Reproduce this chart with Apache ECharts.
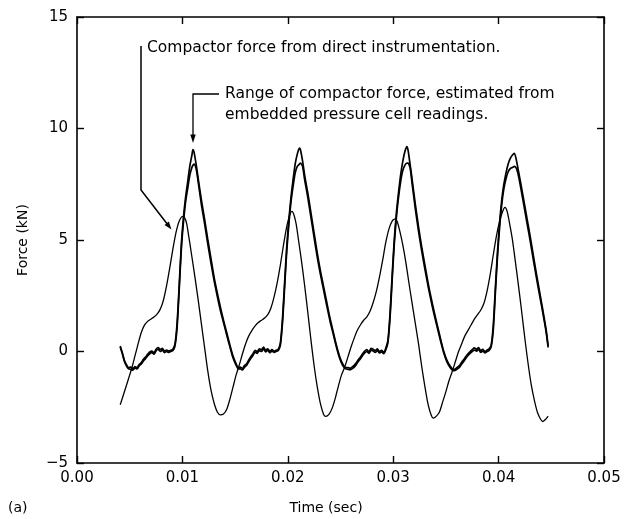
<!DOCTYPE html>
<html>
<head>
<meta charset="utf-8">
<title>Compactor force</title>
<script src="https://cdn.jsdelivr.net/npm/echarts@6/dist/echarts.min.js"></script>
<style>
  html, body { margin: 0; padding: 0; background: #fff; }
  #chart { width: 634px; height: 519px; }
</style>
</head>
<body>
<div id="chart"></div>
<script>
// compactor force from direct instrumentation (time in sec, force in kN)
var directT = [
  0.0041,0.0044,0.0047,0.0050,0.0052,0.0055,0.0058,0.0061,0.0064,0.0067,0.0070,0.0073,0.0076,0.0079,0.0082,0.0085,0.0088,0.0091,0.0094,0.0097,0.0100,0.0102,0.0104,0.0106,
  0.0109,0.0112,0.0115,0.0118,0.0121,0.0124,0.0127,0.0130,0.0133,0.0136,0.0139,0.0142,0.0145,0.0148,0.0151,0.0154,0.0157,0.0160,0.0163,0.0166,0.0169,0.0172,0.0175,0.0178,
  0.0181,0.0184,0.0187,0.0190,0.0193,0.0196,0.0199,0.0202,0.0204,0.0206,0.0208,
  0.0210,0.0213,0.0216,0.0219,0.0222,0.0225,0.0228,0.0231,0.0234,0.0236,0.0239,0.0242,0.0245,0.0248,0.0251,0.0254,0.0257,0.0260,0.0263,0.0266,0.0269,0.0272,0.0275,0.0278,
  0.0281,0.0284,0.0287,0.0290,0.0293,0.0296,0.0299,0.0302,0.0304,0.0306,0.0309,0.0312,0.0315,0.0318,0.0321,0.0324,0.0327,0.0330,0.0333,0.0336,0.0338,
  0.0341,0.0344,0.0347,0.0350,0.0353,0.0356,0.0359,0.0362,0.0365,0.0368,0.0371,0.0374,0.0377,0.0380,0.0383,0.0386,0.0389,0.0392,0.0395,0.0398,0.0401,0.0404,0.0406,0.0408,
  0.0410,0.0413,0.0416,0.0419,0.0422,0.0425,0.0428,0.0431,0.0434,0.0437,0.0440,0.0442,0.0445,0.0447
];
var directF = [
  -2.39,-1.95,-1.50,-1.05,-0.75,-0.20,0.35,0.85,1.18,1.35,1.45,1.55,1.68,1.90,2.30,2.95,3.75,4.60,5.35,5.85,6.05,6.00,5.75,5.17,
  4.25,3.30,2.30,1.25,0.20,-0.85,-1.70,-2.30,-2.70,-2.84,-2.80,-2.60,-2.15,-1.60,-1.05,-0.60,-0.10,0.35,0.70,0.95,1.15,1.30,1.40,1.50,
  1.65,1.95,2.45,3.10,3.90,4.80,5.60,6.15,6.28,6.10,5.70,
  5.05,4.05,2.95,1.75,0.50,-0.65,-1.60,-2.35,-2.82,-2.91,-2.82,-2.55,-2.10,-1.55,-1.05,-0.70,-0.25,0.20,0.60,0.95,1.20,1.40,1.55,1.80,
  2.20,2.70,3.35,4.10,4.90,5.50,5.85,5.95,5.80,5.45,4.80,4.00,3.05,2.15,1.25,0.35,-0.65,-1.55,-2.35,-2.85,-2.99,
  -2.90,-2.70,-2.25,-1.80,-1.30,-0.90,-0.45,0.00,0.35,0.70,0.95,1.20,1.45,1.65,1.85,2.15,2.70,3.45,4.35,5.20,5.85,6.30,6.46,6.30,
  5.85,5.05,4.00,2.90,1.75,0.55,-0.55,-1.50,-2.20,-2.75,-3.05,-3.14,-3.02,-2.90
];

// range estimated from embedded pressure cells: upper and lower bound
var rangeT = [
  0.0041,0.0043,0.0045,0.0047,0.0049,0.0051,0.0053,0.0055,0.0057,0.0059,0.0061,0.0063,0.0065,0.0067,0.0069,0.0071,0.0073,0.0075,0.0077,0.0079,0.0081,0.0083,0.0085,0.0087,
  0.0089,0.0091,0.0093,0.0095,0.0097,0.0099,0.0101,0.0103,0.0105,0.0107,0.0109,0.0110,0.0111,0.0113,0.0115,0.0118,0.0121,0.0124,0.0127,0.0130,0.0133,0.0136,0.0139,0.0142,
  0.0145,0.0148,0.0151,0.0153,
  0.0155,0.0157,0.0159,0.0161,0.0163,0.0165,0.0167,0.0169,0.0171,0.0173,0.0175,0.0177,0.0179,0.0181,0.0183,0.0185,0.0187,0.0189,0.0191,0.0193,0.0195,0.0197,0.0199,0.0201,
  0.0203,0.0205,0.0207,0.0209,0.0211,0.0212,0.0214,0.0216,0.0219,0.0222,0.0225,0.0228,0.0231,0.0234,0.0237,0.0240,0.0243,0.0246,0.0249,0.0252,0.0255,
  0.0257,0.0259,0.0261,0.0263,0.0265,0.0267,0.0269,0.0271,0.0273,0.0275,0.0277,0.0279,0.0281,0.0283,0.0285,0.0287,0.0289,0.0291,0.0293,0.0295,0.0297,0.0299,0.0301,0.0303,
  0.0305,0.0307,0.0309,0.0311,0.0313,0.0314,0.0316,0.0318,0.0321,0.0324,0.0327,0.0330,0.0333,0.0336,0.0339,0.0342,0.0345,0.0348,0.0351,0.0354,0.0357,
  0.0359,0.0361,0.0363,0.0365,0.0367,0.0369,0.0371,0.0373,0.0375,0.0377,0.0379,0.0381,0.0383,0.0385,0.0387,0.0389,0.0391,0.0393,0.0395,0.0397,0.0399,0.0401,0.0403,0.0405,
  0.0407,0.0409,0.0411,0.0413,0.0415,0.0417,0.0419,0.0421,0.0424,0.0427,0.0430,0.0433,0.0436,0.0439,0.0442,0.0445,0.0447
];
var rangeHigh = [
  0.25,-0.05,-0.40,-0.60,-0.72,-0.70,-0.78,-0.68,-0.72,-0.58,-0.50,-0.35,-0.25,-0.12,-0.02,0.02,-0.06,0.10,0.18,0.08,0.14,0.02,0.06,0.02,
  0.05,0.10,0.35,1.30,3.00,4.80,6.00,6.90,7.60,8.30,8.80,9.05,8.95,8.40,7.75,6.80,5.95,5.05,4.20,3.35,2.65,2.00,1.40,0.85,
  0.30,-0.20,-0.55,-0.72,
  -0.70,-0.76,-0.62,-0.55,-0.38,-0.22,-0.10,0.05,0.00,0.12,0.08,0.20,0.06,0.12,0.00,0.08,0.02,0.06,0.10,0.40,1.50,3.10,4.70,5.90,
  6.90,7.70,8.40,8.85,9.12,9.05,8.55,7.90,7.10,6.20,5.30,4.40,3.60,2.90,2.20,1.50,0.90,0.30,-0.20,-0.55,-0.72,
  -0.72,-0.75,-0.70,-0.62,-0.50,-0.36,-0.25,-0.10,0.02,0.08,-0.02,0.14,0.10,0.04,0.12,0.00,0.05,-0.04,0.15,0.50,1.70,3.40,5.00,6.20,
  7.10,7.90,8.50,8.95,9.19,9.05,8.40,7.70,6.60,5.60,4.70,3.90,3.10,2.40,1.75,1.15,0.55,0.00,-0.40,-0.65,-0.80,
  -0.78,-0.70,-0.62,-0.48,-0.36,-0.22,-0.10,0.00,0.08,0.16,0.10,0.18,0.04,0.10,0.00,0.06,0.12,0.30,1.20,2.90,4.50,5.80,6.80,7.50,
  8.00,8.40,8.65,8.80,8.89,8.55,8.05,7.55,6.75,5.95,5.15,4.30,3.45,2.65,1.85,1.00,0.25
];
var rangeLow = [
  0.20,-0.10,-0.45,-0.65,-0.78,-0.80,-0.84,-0.74,-0.78,-0.64,-0.56,-0.42,-0.32,-0.20,-0.10,-0.05,-0.12,0.03,0.10,0.00,0.06,-0.05,0.00,-0.04,
  0.00,0.04,0.25,1.10,2.80,4.60,5.80,6.70,7.30,7.90,8.25,8.35,8.40,8.20,7.60,6.60,5.75,4.85,4.00,3.20,2.50,1.85,1.30,0.75,
  0.22,-0.28,-0.62,-0.78,
  -0.78,-0.82,-0.70,-0.62,-0.45,-0.30,-0.18,-0.03,-0.08,0.04,0.00,0.12,-0.02,0.05,-0.06,0.02,-0.04,0.00,0.04,0.30,1.30,2.90,4.50,5.70,
  6.70,7.40,8.00,8.30,8.40,8.45,8.30,7.70,6.90,6.00,5.10,4.22,3.45,2.75,2.05,1.38,0.80,0.22,-0.28,-0.62,-0.78,
  -0.80,-0.82,-0.78,-0.70,-0.58,-0.44,-0.32,-0.18,-0.06,0.00,-0.08,0.06,0.02,-0.04,0.04,-0.06,-0.02,-0.10,0.08,0.40,1.50,3.20,4.80,6.00,
  6.90,7.60,8.10,8.35,8.45,8.45,8.25,7.50,6.40,5.40,4.52,3.72,2.95,2.26,1.62,1.04,0.46,-0.07,-0.47,-0.72,-0.86,
  -0.84,-0.78,-0.70,-0.56,-0.44,-0.30,-0.18,-0.08,0.00,0.06,0.02,0.10,-0.04,0.02,-0.06,0.00,0.05,0.22,1.00,2.70,4.30,5.60,6.60,7.30,
  7.75,8.05,8.20,8.25,8.30,8.20,7.85,7.35,6.55,5.75,4.95,4.10,3.28,2.50,1.72,0.90,0.18
];

var timeMin = 0, timeMax = 0.05, timeStep = 0.01;
var forceMin = -5, forceMax = 15, forceStep = 5;

function zip(t, f) {
  return t.map(function (v, i) { return [v, f[i]]; });
}

var font = 'DejaVu Sans';
var ink = '#000';
var noteFont = '15.5px "DejaVu Sans"';

var chart = echarts.init(document.getElementById('chart'));

var frameAxis = {
  axisLine: { show: true, onZero: false, lineStyle: { color: ink, width: 1.6 } },
  axisTick: { show: true, inside: true, length: 7, lineStyle: { color: ink, width: 1.4 } },
  splitLine: { show: false }
};

function lineSeries(name, data, width) {
  return {
    name: name,
    type: 'line',
    data: data,
    showSymbol: false,
    smooth: 0.25,
    animation: false,
    lineStyle: { color: ink, width: width },
    z: 3
  };
}

chart.setOption({
  backgroundColor: '#fff',
  animation: false,
  grid: { left: 77, right: 30, top: 17, bottom: 56, containLabel: false, outerBoundsMode: 'none' },
  xAxis: [
    Object.assign({
      type: 'value', min: timeMin, max: timeMax, interval: timeStep, position: 'bottom',
      axisLabel: {
        color: ink, fontFamily: font, fontSize: 15, margin: 8,
        formatter: function (v) { return v.toFixed(2); }
      }
    }, frameAxis),
    Object.assign({
      type: 'value', min: timeMin, max: timeMax, interval: timeStep, position: 'top',
      axisLabel: { show: false }
    }, frameAxis)
  ],
  yAxis: [
    Object.assign({
      type: 'value', min: forceMin, max: forceMax, interval: forceStep, position: 'left',
      name: 'Force (kN)', nameLocation: 'middle', nameGap: 47,
      nameTextStyle: { color: ink, fontFamily: font, fontSize: 14 },
      axisLabel: {
        color: ink, fontFamily: font, fontSize: 15, margin: 9,
        formatter: function (v) { return String(v).replace('-', '\u2212'); }
      }
    }, frameAxis),
    Object.assign({
      type: 'value', min: forceMin, max: forceMax, interval: forceStep, position: 'right',
      axisLabel: { show: false }
    }, frameAxis)
  ],
  series: [
    lineSeries('Compactor force from direct instrumentation', zip(directT, directF), 1.3),
    lineSeries('Range upper bound', zip(rangeT, rangeHigh), 1.7),
    lineSeries('Range lower bound', zip(rangeT, rangeLow), 1.7)
  ],
  graphic: [
    { type: 'text', x: 147, y: 48, style: { text: 'Compactor force from direct instrumentation.', fill: ink, font: noteFont, verticalAlign: 'middle' } },
    { type: 'text', x: 225, y: 94, style: { text: 'Range of compactor force, estimated from', fill: ink, font: noteFont, verticalAlign: 'middle' } },
    { type: 'text', x: 225, y: 115, style: { text: 'embedded pressure cell readings.', fill: ink, font: noteFont, verticalAlign: 'middle' } },
    { type: 'polyline', shape: { points: [[141, 46], [141, 190], [168, 225]] }, style: { stroke: ink, lineWidth: 1.5, fill: null } },
    { type: 'polygon', shape: { points: [[171.5, 229.5], [164.5, 225], [168.8, 221.6]] }, style: { fill: ink } },
    { type: 'polyline', shape: { points: [[219, 94], [193, 94], [193, 136]] }, style: { stroke: ink, lineWidth: 1.3, fill: null } },
    { type: 'polygon', shape: { points: [[193, 143], [190.3, 134.5], [195.7, 134.5]] }, style: { fill: ink } },
    { type: 'text', x: 8, y: 508, style: { text: '(a)', fill: ink, font: '14px "DejaVu Sans"', verticalAlign: 'middle' } },
    { type: 'text', x: 326, y: 508, style: { text: 'Time (sec)', fill: ink, font: '14px "DejaVu Sans"', align: 'center', verticalAlign: 'middle' } }
  ]
});
</script>
</body>
</html>
